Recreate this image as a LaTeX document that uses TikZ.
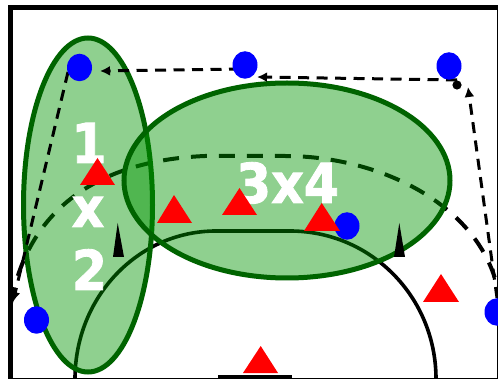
\documentclass[tikz,border=0pt]{standalone}
\usepackage{fontspec}
\setmainfont{DejaVu Sans}
\newfontfamily\lblfont[FakeBold=1.6]{DejaVu Sans Bold}
\usetikzlibrary{shapes.geometric,arrows.meta}
\definecolor{zonefill}{RGB}{0,150,0}
\definecolor{zoneline}{RGB}{0,100,0}
\tikzset{
  zone/.style={draw=zoneline,line width=5pt,fill=zonefill,fill opacity=.44,draw opacity=1},
  player/.style={ellipse,fill=blue,minimum width=25pt,minimum height=27.5pt,inner sep=0pt,outer sep=0pt},
  court/.style={line width=3.6pt,black},
  courtdash/.style={line width=4pt,black,dash pattern=on 16pt off 12pt},
  pass/.style={line width=3pt,black,dash pattern=on 11pt off 7.5pt,-{Latex[length=10pt,width=10pt]}},
  lbl/.style={white,anchor=base,font=\lblfont\fontsize{55}{55}\selectfont,inner sep=0pt,outer sep=0pt},
  tri/.style={fill=red,draw=none},
  spike/.style={fill=black,draw=none}
}
\newcommand{\lbltext}[1]{\scalebox{.92}[1]{#1}}
\begin{document}
\begin{tikzpicture}[x=1pt,y=-1pt]
\useasboundingbox (0,0) rectangle (498,379);
\clip (0,0) rectangle (498,379);
\fill[white] (0,0) rectangle (498,379);
\draw[line width=5pt,black] (10.5,7.5) rectangle (499.5,380);
% court
\draw[court] (75,379) .. controls (75,297) and (138,231) .. (216,231) -- (290,231) .. controls (371,231) and (436,297) .. (436,379);
\draw[courtdash] (11,303) .. controls (30,200) and (110,160) .. (205,156) -- (285,156) .. controls (380,156) and (480,205) .. (498,290);
\fill[black] (218,375) rectangle (292,379);
% zones
\draw[zone] (88,205) ellipse [x radius=64.5,y radius=167];
\draw[zone] (287,180.5) ellipse [x radius=163,y radius=97.5];
% coordinates
\coordinate (e1) at (68,72);
\coordinate (e2) at (13,302);
\coordinate (e3) at (240,69);
\coordinate (e4) at (100,71);
\coordinate (e5) at (457,80);
\coordinate (e6) at (257,77);
\coordinate (e7) at (497,298);
\coordinate (e8) at (468,87);
% passes
\draw[pass] (e1) -- (e2);
\draw[pass] (e3) -- (e4);
\draw[pass] (e5) -- (e6);
\draw[pass] (e7) -- (e8);
\fill[black] (457,85) circle (4.6);
% players
\node[player] (p1) at (79.5,67.5) {};
\node[player] (p2) at (245,65) {};
\node[player] (p3) at (449,66) {};
\node[player] (p4) at (36.5,320) {};
\node[player] (p5) at (347,226) {};
\node[player] (p6) at (497,312) {};
% cones
\fill[spike] (117.7,223) -- (124,257) -- (113,257) -- cycle;
\fill[spike] (399.3,223) -- (405,257) -- (394,257) -- cycle;
% labels
\node[lbl] (t1) at (89,163) {\lbltext{1}};
\node[lbl] (t2) at (88,227) {\lbltext{x}};
\node[lbl] (t3) at (89.5,290) {\lbltext{2}};
\node[lbl] (t4) at (287.5,203) {\lbltext{3x4}};
% defenders
\fill[tri] (97.5,158) -- (115,185) -- (80,185) -- cycle;
\fill[tri] (174,195) -- (192,223) -- (157,223) -- cycle;
\fill[tri] (239.5,188) -- (257,215) -- (222,215) -- cycle;
\fill[tri] (321.7,203) -- (340,231) -- (304,231) -- cycle;
\fill[tri] (441,274) -- (459,302) -- (423,302) -- cycle;
\fill[tri] (260.7,346) -- (278,373) -- (243,373) -- cycle;
\end{tikzpicture}
\end{document}
